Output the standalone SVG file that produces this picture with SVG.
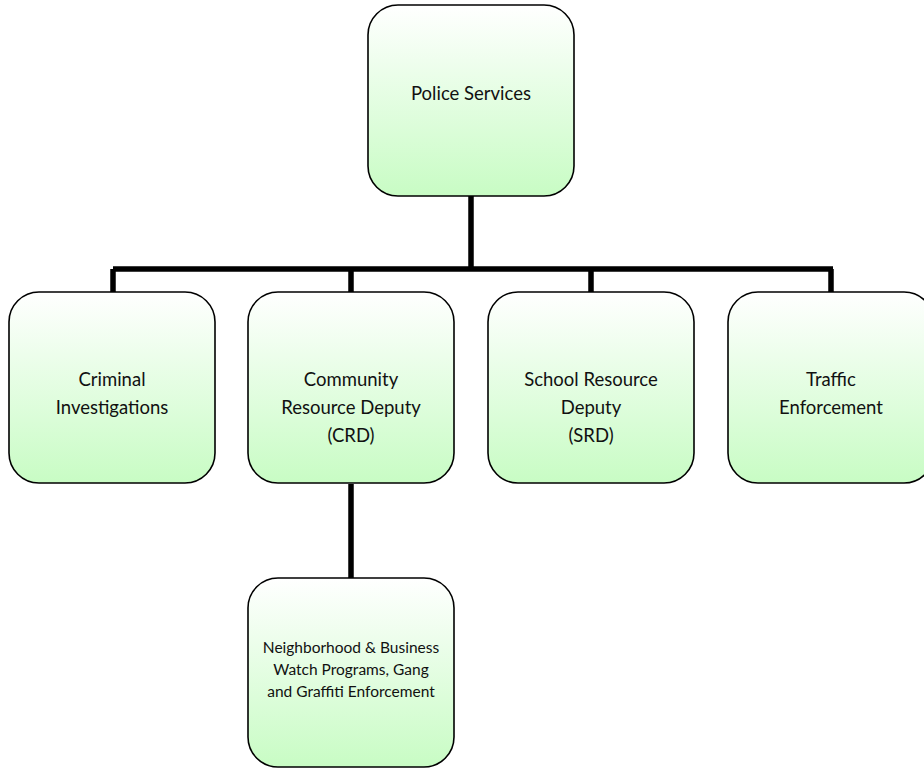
<svg xmlns="http://www.w3.org/2000/svg" width="924" height="769" viewBox="0 0 924 769">
<defs>
<linearGradient id="g" x1="0" y1="0" x2="0" y2="1">
<stop offset="0" stop-color="#ffffff"/>
<stop offset="1" stop-color="#c8fcc4"/>
</linearGradient>
<style>
.box{fill:url(#g);stroke:#000;stroke-width:1.6}
.t{font-family:Lato,"Open Sans",sans-serif;font-size:18.5px;fill:#111;text-anchor:middle}
.s{font-family:Lato,"Open Sans",sans-serif;font-size:15.5px;fill:#111;text-anchor:middle}
.c{fill:none;stroke:#000;stroke-width:5.5}
</style>
</defs>
<rect width="924" height="769" fill="#fff"/>
<g id="connectors">
<path class="c" d="M471 196V269M113 269H833M113 269V292M351 269V292M591 269V292M831 269V292M351 484V578"/>
</g>
<g id="police-services">
<rect class="box" x="368" y="5" width="206" height="191" rx="30"/>
<text class="t" x="471" y="100">Police Services</text>
</g>
<g id="criminal-investigations">
<rect class="box" x="9" y="292" width="206" height="191" rx="30"/>
<text class="t" x="112" y="386">Criminal</text>
<text class="t" x="112" y="414">Investigations</text>
</g>
<g id="crd">
<rect class="box" x="248" y="292" width="206" height="191" rx="30"/>
<text class="t" x="351" y="386">Community</text>
<text class="t" x="351" y="414">Resource Deputy</text>
<text class="t" x="351" y="442">(CRD)</text>
</g>
<g id="srd">
<rect class="box" x="488" y="292" width="206" height="191" rx="30"/>
<text class="t" x="591" y="386">School Resource</text>
<text class="t" x="591" y="414">Deputy</text>
<text class="t" x="591" y="442">(SRD)</text>
</g>
<g id="traffic-enforcement">
<rect class="box" x="728" y="292" width="206" height="191" rx="30"/>
<text class="t" x="831" y="386">Traffic</text>
<text class="t" x="831" y="414">Enforcement</text>
</g>
<g id="neighborhood-watch">
<rect class="box" x="248" y="578" width="206" height="189" rx="30"/>
<text class="s" x="351" y="653">Neighborhood &amp; Business</text>
<text class="s" x="351" y="675">Watch Programs, Gang</text>
<text class="s" x="351" y="697">and Graffiti Enforcement</text>
</g>
</svg>
